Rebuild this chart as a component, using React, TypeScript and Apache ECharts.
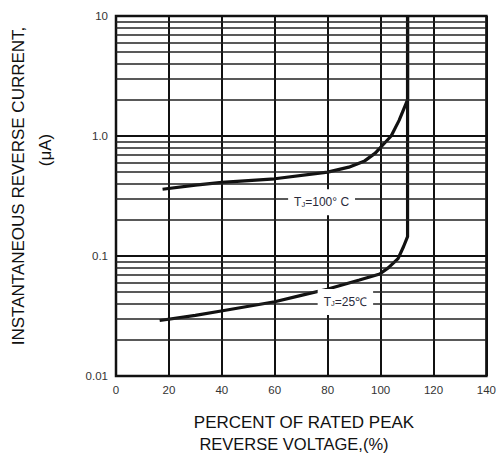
import React, { useEffect, useRef } from "react";
import * as echarts from "echarts";

const xTicks = [0, 20, 40, 60, 80, 100, 120, 140];
const yTickLabels = ["0.01", "0.1", "1.0", "10"];
const minorY = [
  0.02, 0.03, 0.04, 0.05, 0.06, 0.07, 0.08, 0.09,
  0.2, 0.3, 0.4, 0.5, 0.6, 0.7, 0.8, 0.9,
  2, 3, 4, 5, 6, 7, 8, 9,
];
const hot: [number, number][] = [
  [17.6, 0.36], [30, 0.39], [40, 0.41], [60, 0.44], [80, 0.5], [88, 0.55],
  [94, 0.62], [98, 0.72], [101, 0.85], [104, 1.0], [107, 1.35], [110.2, 2.0], [110.2, 10],
];
const cold: [number, number][] = [
  [16.5, 0.029], [30, 0.032], [40.3, 0.035], [60, 0.0416], [70, 0.047], [79.8, 0.0528],
  [92, 0.063], [99.7, 0.0708], [103, 0.08], [106.6, 0.095], [108.7, 0.12], [110.2, 0.145], [110.2, 10],
];
const hotLabelAt: [number, number] = [77.7, 0.28];
const coldLabelAt: [number, number] = [86.7, 0.0414];

const FONT = "'Liberation Sans', Arial, sans-serif";

export default function App() {
  const ref = useRef<HTMLDivElement>(null);
  useEffect(() => {
    if (!ref.current) return;
    const chart = echarts.init(ref.current, null, { renderer: "svg" });
    const rich = {
      t: { fontSize: 12, color: "#2a2a3a", fontFamily: FONT },
      s: { fontSize: 7.5, color: "#2a2a3a", fontFamily: FONT, verticalAlign: "bottom", padding: [4, 0, 0, 0] },
    };
    const labelStyle = (text: string) => ({
      show: true,
      position: "inside",
      formatter: text,
      backgroundColor: "#fff",
      padding: [7, 6, 7, 6],
      rich,
    });
    chart.setOption({
      animation: false,
      backgroundColor: "#fff",
      grid: {
        left: 116,
        right: 10,
        top: 16,
        bottom: 78,
        show: true,
        borderColor: "#111",
        borderWidth: 2.5,
        containLabel: false,
      },
      xAxis: {
        type: "value",
        min: xTicks[0],
        max: xTicks[xTicks.length - 1],
        interval: 20,
        axisLine: { show: false },
        axisTick: { show: false },
        axisLabel: { color: "#333", fontSize: 11.5, fontFamily: FONT, margin: 8 },
        splitLine: { show: true, lineStyle: { color: "#111", width: 2 } },
      },
      yAxis: {
        type: "log",
        logBase: 10,
        min: 0.01,
        max: 10,
        axisLine: { show: false },
        axisTick: { show: false },
        axisLabel: {
          color: "#333",
          fontSize: 11.5,
          fontFamily: FONT,
          margin: 8,
          formatter: (v: number) => yTickLabels[Math.round(Math.log10(v)) + 2] ?? "",
        },
        splitLine: { show: true, lineStyle: { color: "#111", width: 2 } },
      },
      series: [
        {
          type: "line",
          data: [],
          z: 1,
          silent: true,
          markLine: {
            silent: true,
            symbol: "none",
            label: { show: false },
            lineStyle: { color: "#222", width: 1.6, type: "solid" },
            data: minorY.map((v) => ({ yAxis: v })),
          },
        },
        {
          type: "line",
          data: hot,
          z: 3,
          showSymbol: false,
          symbol: "none",
          lineStyle: { color: "#111", width: 3.2 },
          markPoint: {
            symbol: "rect",
            symbolSize: 1,
            itemStyle: { color: "rgba(0,0,0,0)" },
            label: labelStyle("{t|T}{s|J}{t|=100° C}"),
            data: [{ coord: hotLabelAt }],
          },
        },
        {
          type: "line",
          data: cold,
          z: 3,
          showSymbol: false,
          symbol: "none",
          lineStyle: { color: "#111", width: 3.2 },
          markPoint: {
            symbol: "rect",
            symbolSize: 1,
            itemStyle: { color: "rgba(0,0,0,0)" },
            label: labelStyle("{t|T}{s|J}{t|=25℃}"),
            data: [{ coord: coldLabelAt }],
          },
        },
      ],
      graphic: [
        {
          type: "text",
          x: 18,
          y: 186,
          rotation: Math.PI / 2,
          style: {
            text: "INSTANTANEOUS REVERSE CURRENT,",
            font: `17px ${FONT}`,
            fill: "#111",
            align: "center",
            verticalAlign: "middle",
          },
        },
        {
          type: "text",
          x: 45,
          y: 150,
          rotation: Math.PI / 2,
          style: {
            text: "(μA)",
            font: `17px ${FONT}`,
            fill: "#111",
            align: "center",
            verticalAlign: "middle",
          },
        },
        {
          type: "text",
          x: 304,
          y: 422,
          style: {
            text: "PERCENT OF RATED PEAK",
            font: `17px ${FONT}`,
            fill: "#111",
            align: "center",
            verticalAlign: "middle",
          },
        },
        {
          type: "text",
          x: 294,
          y: 444,
          style: {
            text: "REVERSE VOLTAGE,(%)",
            font: `16.5px ${FONT}`,
            fill: "#111",
            align: "center",
            verticalAlign: "middle",
          },
        },
      ],
    });
    return () => chart.dispose();
  }, []);
  return <div ref={ref} style={{ width: 499, height: 454, position: "absolute", left: 0, top: 0 }} />;
}
